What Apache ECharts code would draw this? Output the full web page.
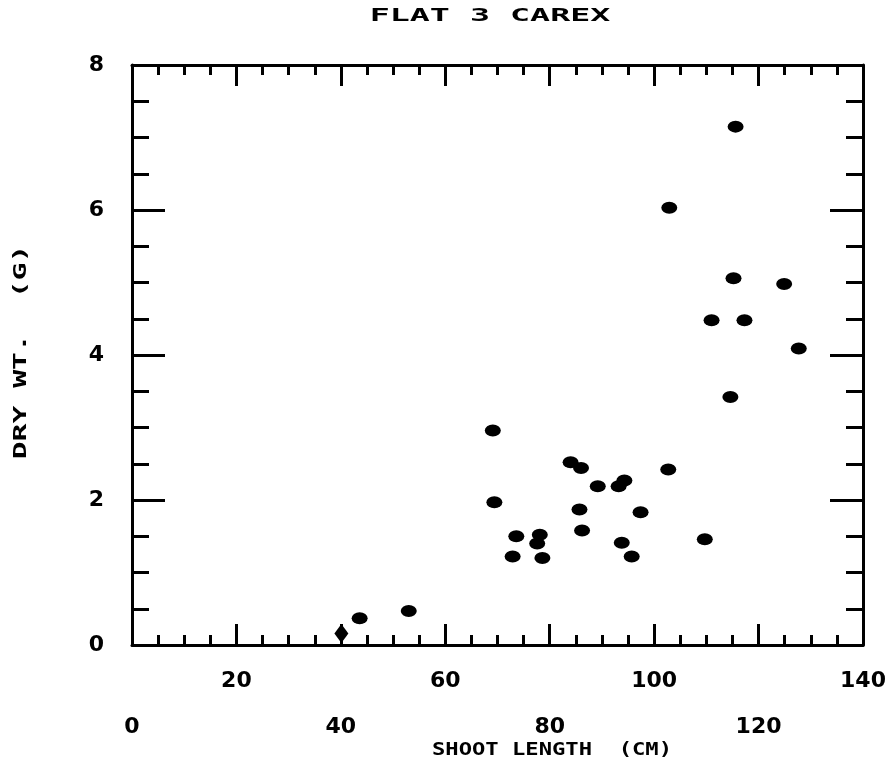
<!DOCTYPE html>
<html>
<head>
<meta charset="utf-8">
<script src="https://cdn.jsdelivr.net/npm/echarts@6/dist/echarts.min.js"></script>
<style>
  html, body { margin: 0; padding: 0; background: #fff; }
  #chart { width: 895px; height: 767px; }
</style>
</head>
<body>
<div id="chart"></div>
<script>
// shoot length (cm) vs dry weight (g)
const shootLength = [43.6, 53.0, 69.1, 69.4, 73.6, 72.9, 78.1, 77.6, 78.6, 84.0, 86.0, 85.7, 86.2, 89.2,
    93.2, 94.3, 93.8, 95.7, 97.4, 102.7, 102.9, 109.7, 111.0, 114.6, 115.2, 115.6, 117.3, 124.9, 127.7];
const dryWeight = [0.37, 0.47, 2.96, 1.97, 1.50, 1.22, 1.52, 1.40, 1.20, 2.52, 2.44, 1.87, 1.58, 2.19,
    2.19, 2.27, 1.41, 1.22, 1.83, 2.42, 6.03, 1.46, 4.48, 3.42, 5.06, 7.15, 4.48, 4.98, 4.09];

// the single diamond marker near the origin
const diamondX = [40.1];
const diamondY = [0.16];

const xRange = [0, 140];
const xStep = 20;
const yRange = [0, 8];
const yStep = 2;

const labelFont = 'DejaVu Sans';

const chart = echarts.init(document.getElementById('chart'));

function xAxisCfg(pos, showLabel) {
    return {
        type: 'value',
        position: pos,
        min: xRange[0],
        max: xRange[1],
        interval: xStep,
        axisLine: { show: true, onZero: false, lineStyle: { color: '#000', width: 3 } },
        axisTick: { show: true, inside: true, length: 21, lineStyle: { color: '#000', width: 3 } },
        minorTick: { show: true, splitNumber: 4, length: 10, lineStyle: { color: '#000', width: 3 } },
        splitLine: { show: false },
        axisLabel: {
            show: showLabel,
            margin: 13,
            color: '#000',
            fontFamily: labelFont,
            fontWeight: 'bold',
            fontSize: 22,
            lineHeight: 46,
            // alternate labels drop to a second row
            formatter: v => (v % 40 === 0 ? '\n' + v : String(v))
        }
    };
}

function yAxisCfg(pos, showLabel) {
    return {
        type: 'value',
        position: pos,
        min: yRange[0],
        max: yRange[1],
        interval: yStep,
        axisLine: { show: true, onZero: false, lineStyle: { color: '#000', width: 3 } },
        axisTick: { show: true, inside: true, length: 33, lineStyle: { color: '#000', width: 3 } },
        minorTick: { show: true, splitNumber: 4, length: 17, lineStyle: { color: '#000', width: 3 } },
        splitLine: { show: false },
        axisLabel: {
            show: showLabel,
            margin: 28,
            color: '#000',
            fontFamily: labelFont,
            fontWeight: 'bold',
            fontSize: 22
        }
    };
}

const option = {
    backgroundColor: '#fff',
    animation: false,
    grid: { left: 132, right: 32, top: 65, bottom: 122 },
    xAxis: [xAxisCfg('bottom', true), xAxisCfg('top', false)],
    yAxis: [yAxisCfg('left', true), yAxisCfg('right', false)],
    graphic: [
        {
            type: 'text', x: 490, y: 16, scaleX: 1.85,
            style: { text: 'FLAT 3 CAREX', font: 'bold 18px "DejaVu Sans Mono"', align: 'center', verticalAlign: 'middle', fill: '#000' }
        },
        {
            type: 'text', x: 552, y: 750, scaleX: 1.23,
            style: { text: 'SHOOT LENGTH  (CM)', font: 'bold 18px "DejaVu Sans Mono"', align: 'center', verticalAlign: 'middle', fill: '#000' }
        },
        {
            type: 'text', x: 21, y: 352, rotation: Math.PI / 2, scaleX: 1.65,
            style: { text: 'DRY WT.  (G)', font: 'bold 18px "DejaVu Sans Mono"', align: 'center', verticalAlign: 'middle', fill: '#000' }
        }
    ],
    series: [
        {
            type: 'scatter',
            xAxisIndex: 0,
            yAxisIndex: 0,
            symbol: 'circle',
            symbolSize: [16, 12],
            itemStyle: { color: '#000', opacity: 1 },
            data: shootLength.map((x, i) => [x, dryWeight[i]])
        },
        {
            type: 'scatter',
            xAxisIndex: 0,
            yAxisIndex: 0,
            symbol: 'diamond',
            symbolSize: [14, 19],
            itemStyle: { color: '#000', opacity: 1 },
            data: diamondX.map((x, i) => [x, diamondY[i]])
        }
    ]
};

chart.setOption(option);
</script>
</body>
</html>
